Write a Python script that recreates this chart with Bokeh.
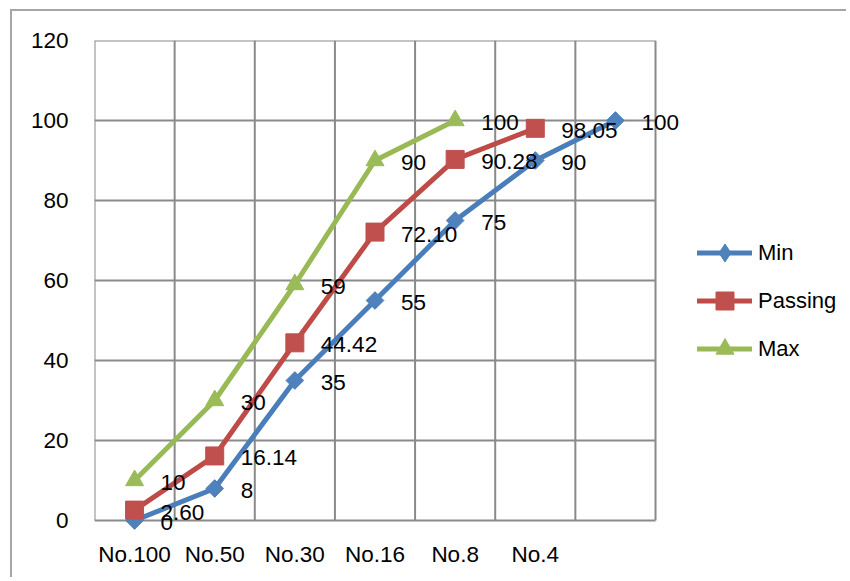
import numpy as np
from bokeh.plotting import figure
from bokeh.models import (Range1d, FixedTicker, Legend, LegendItem,
                          ColumnDataSource, LabelSet)
from bokeh.core.properties import value
from bokeh.embed import file_html
from bokeh.resources import INLINE

# ---- data ----
categories = ["No.100", "No.50", "No.30", "No.16", "No.8", "No.4", ""]
min_vals = [0, 8, 35, 55, 75, 90, 100]
passing_vals = [2.60, 16.14, 44.42, 72.10, 90.28, 98.05]
max_vals = [10, 30, 59, 90, 100]
min_labels = ["0", "8", "35", "55", "75", "90", "100"]
passing_labels = ["2.60", "16.14", "44.42", "72.10", "90.28", "98.05"]
max_labels = ["10", "30", "59", "90", "100"]
y_ticks = [0, 20, 40, 60, 80, 100, 120]
Y_MAX = 120

FONT = "Liberation Sans"
FS = "22.5px"
GRID = "#8a8a8a"

# layout (pixels)
W, H = 836, 568
LEFT, TOP = 82, 29
BOX_W, BOX_H = 561, 480        # gridded plot box
FRAME_W = W - LEFT              # frame extends right so labels/legend are not clipped
EXTRA_B = 15                    # frame extends below the box
FRAME_H = BOX_H + EXTRA_B
BOTTOM = H - TOP - FRAME_H

n = len(categories)
x_end = n * FRAME_W / BOX_W
y_start = -Y_MAX * EXTRA_B / BOX_H

p = figure(width=W, height=H, output_backend="svg", toolbar_location=None,
           x_range=Range1d(0, x_end), y_range=Range1d(y_start, Y_MAX),
           min_border_left=LEFT, min_border_right=0, min_border_top=TOP,
           min_border_bottom=BOTTOM)
p.styles = {"margin-left": "10px", "margin-top": "9px",
            "border-left": "2px solid #a6a6a6", "border-top": "2px solid #a6a6a6"}
p.outline_line_color = None
p.grid.visible = False

# axes
p.xaxis.ticker = FixedTicker(ticks=[i + 0.5 for i, c in enumerate(categories) if c])
p.xaxis.major_label_overrides = {i + 0.5: c for i, c in enumerate(categories) if c}
p.xaxis.axis_line_color = None
p.yaxis.ticker = FixedTicker(ticks=y_ticks)
p.yaxis.axis_line_color = None
for ax in (p.xaxis, p.yaxis):
    ax.major_tick_line_color = None
    ax.minor_tick_line_color = None
    ax.major_tick_out = 0
    ax.major_tick_in = 0
    ax.major_label_text_font = FONT
    ax.major_label_text_font_size = FS
    ax.major_label_text_color = "black"
p.yaxis.major_label_standoff = 26
p.xaxis.major_label_standoff = 6

# grid lines / plot-area box built from the tick lists
p.segment(x0=[0] * len(y_ticks), x1=[n] * len(y_ticks), y0=y_ticks, y1=y_ticks,
          line_color=GRID, line_width=2, level="underlay")
vx = list(range(n + 1))
p.segment(x0=vx, x1=vx, y0=[0] * len(vx), y1=[Y_MAX] * len(vx),
          line_color=GRID, line_width=2, level="underlay")

series = [
    ("Min", min_vals, min_labels, "#4A7EBB", "#4F81BD", "square", 12.5, np.pi / 4),
    ("Passing", passing_vals, passing_labels, "#BE4B48", "#C0504D", "square", 18, 0),
    ("Max", max_vals, max_labels, "#98B954", "#9BBB59", "triangle", 18, 0),
]

items = []
for name, vals, labs, lc, mc, marker, size, ang in series:
    xs = [i + 0.5 for i in range(len(vals))]
    src = ColumnDataSource(dict(x=xs, y=vals, lab=labs))
    lr = p.line("x", "y", source=src, line_color=lc, line_width=5,
                line_join="round", line_cap="round")
    if ang:
        # diamond drawn underneath the rotated squares; used for the legend glyph
        leg = p.scatter("x", "y", source=src, marker="diamond", size=17,
                        fill_color=mc, line_color=mc, line_width=1)
    sr = p.scatter("x", "y", source=src, marker=marker, size=size, angle=ang,
                   fill_color=mc, line_color=mc, line_width=1)
    if not ang:
        leg = sr
    p.add_layout(LabelSet(x="x", y="y", text="lab", source=src, x_offset=26,
                          y_offset=-2, text_baseline="middle", text_align="left",
                          text_font=value(FONT), text_font_size=value(FS),
                          text_color="black"))
    items.append(LegendItem(label=name, renderers=[lr, leg]))

legend = Legend(items=items, location=(603, 164), glyph_width=55, glyph_height=45,
                label_height=45, label_standoff=6, spacing=3, padding=10,
                margin=0, border_line_color=None, background_fill_alpha=0,
                label_text_font=FONT, label_text_font_size="22px",
                label_text_color="black")
p.add_layout(legend, "center")

open("out.html", "w").write(file_html(p, INLINE))
